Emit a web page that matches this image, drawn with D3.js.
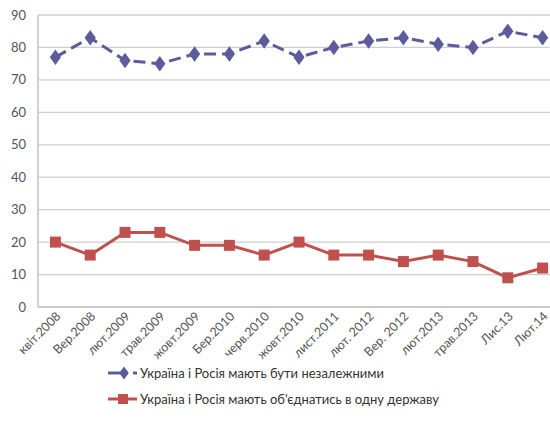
<!DOCTYPE html>
<html>
<head>
<meta charset="utf-8">
<script src="https://cdn.jsdelivr.net/npm/d3@7"></script>
<style>
  body { margin: 0; background: #fff; }
  svg { font-family: Lato, "Open Sans", sans-serif; display: block; }
</style>
</head>
<body>
<div id="app"></div>
<script>
const labels = ['квіт.2008', 'Вер.2008', 'лют.2009', 'трав.2009', 'жовт.2009', 'Бер.2010', 'черв.2010',
  'жовт.2010', 'лист.2011', 'лют. 2012', 'Вер. 2012', 'лют.2013', 'трав.2013', 'Лис.13', 'Лют.14']
const independent = [77, 83, 76, 75, 78, 78, 82, 77, 80, 82, 83, 81, 80, 85, 83]
const united = [20, 16, 23, 23, 19, 19, 16, 20, 16, 16, 14, 16, 14, 9, 12]
const yTicks = [0, 10, 20, 30, 40, 50, 60, 70, 80, 90]
const seriesNames = ['Україна і Росія мають бути незалежними', "Україна і Росія мають об'єднатись в одну державу"]

const size = { width: 550, height: 433 }
const plot = { left: 38, right: 560, top: 15, bottom: 307 }
const blue = '#5b5b9e'
const red = '#c0504d'

const svg = d3.select('#app').append('svg')
  .attr('width', size.width)
  .attr('height', size.height)

const x = d3.scaleBand().domain(labels).range([plot.left, plot.right])
const y = d3.scaleLinear().domain([0, 90]).range([plot.bottom, plot.top])

// gridlines
svg.append('g')
  .selectAll('line')
  .data(yTicks)
  .enter()
  .append('line')
  .attr('x1', plot.left)
  .attr('x2', plot.right)
  .attr('y1', d => y(d))
  .attr('y2', d => y(d))
  .attr('stroke', d => d === 0 ? '#b8b8b8' : '#cfcfcf')
  .attr('stroke-width', 1.3)

// y axis line
svg.append('line')
  .attr('x1', plot.left).attr('x2', plot.left)
  .attr('y1', plot.top).attr('y2', plot.bottom)
  .attr('stroke', '#b8b8b8').attr('stroke-width', 1.3)

// y labels
svg.append('g')
  .selectAll('text')
  .data(yTicks)
  .enter()
  .append('text')
  .attr('x', 26)
  .attr('y', d => y(d) + 4.5)
  .attr('text-anchor', 'end')
  .attr('font-size', 13)
  .attr('fill', '#555')
  .text(d => d)

// x labels
svg.append('g')
  .selectAll('text')
  .data(labels)
  .enter()
  .append('text')
  .attr('transform', d => `translate(${x(d) + x.bandwidth() / 2 + 6},${plot.bottom + 10}) rotate(-45)`)
  .attr('text-anchor', 'end')
  .attr('font-size', 12.5)
  .attr('fill', '#555')
  .text(d => d)

const cx = (d, i) => x(labels[i]) + x.bandwidth() / 2
const line = d3.line().x(cx).y(d => y(d))

// series 1 dashed, diamonds
svg.append('path')
  .datum(independent)
  .attr('d', line)
  .attr('fill', 'none')
  .attr('stroke', blue)
  .attr('stroke-width', 3)
  .attr('stroke-dasharray', '12,6')

const diamond = d3.symbol().type(d3.symbolDiamond).size(70)
svg.append('g')
  .selectAll('path')
  .data(independent)
  .enter()
  .append('path')
  .attr('d', diamond)
  .attr('transform', (d, i) => `translate(${cx(d, i)},${y(d)}) scale(1.25,1)`)
  .attr('fill', blue)

// series 2 solid, squares
svg.append('path')
  .datum(united)
  .attr('d', line)
  .attr('fill', 'none')
  .attr('stroke', red)
  .attr('stroke-width', 3)

svg.append('g')
  .selectAll('rect')
  .data(united)
  .enter()
  .append('rect')
  .attr('x', (d, i) => cx(d, i) - 5.5)
  .attr('y', d => y(d) - 5.5)
  .attr('width', 11)
  .attr('height', 11)
  .attr('fill', red)

// legend
const legend = svg.append('g')
const lg1 = 373, lg2 = 399
legend.append('line').attr('x1', 108).attr('x2', 128).attr('y1', lg1).attr('y2', lg1)
  .attr('stroke', blue).attr('stroke-width', 3)
legend.append('line').attr('x1', 133).attr('x2', 137).attr('y1', lg1).attr('y2', lg1)
  .attr('stroke', blue).attr('stroke-width', 3)
legend.append('path').attr('d', d3.symbol().type(d3.symbolDiamond).size(50))
  .attr('transform', `translate(124,${lg1}) scale(1.25,1)`).attr('fill', blue)
legend.append('line').attr('x1', 108).attr('x2', 137).attr('y1', lg2).attr('y2', lg2)
  .attr('stroke', red).attr('stroke-width', 3)
legend.append('rect').attr('x', 118).attr('y', lg2 - 5).attr('width', 10).attr('height', 10).attr('fill', red)

legend.selectAll('text')
  .data(seriesNames)
  .enter()
  .append('text')
  .attr('x', 140)
  .attr('y', (d, i) => (i === 0 ? lg1 : lg2) + 4.5)
  .attr('font-size', 13)
  .attr('fill', '#333')
  .text(d => d)
</script>
</body>
</html>
